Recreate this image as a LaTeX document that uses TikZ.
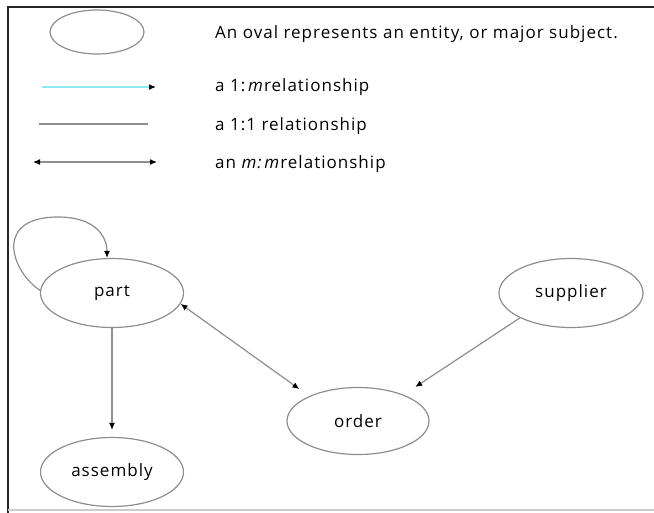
\documentclass[tikz,border=0pt]{standalone}
\usepackage{fontspec}
\setmainfont{Open Sans}[LetterSpace=6]
\usetikzlibrary{arrows.meta,shapes.geometric}
\definecolor{edgegray}{HTML}{8E8E8E}
\definecolor{onemany}{HTML}{8EEAF2}
\begin{document}
\begin{tikzpicture}[x=1pt,y=-1pt,
  entity/.style={draw=edgegray,line width=1.2pt,ellipse,minimum width=143pt,minimum height=69pt,inner sep=0pt,font=\fontsize{17}{20}\selectfont},
  legtext/.style={anchor=base west,inner sep=0pt,font=\fontsize{17}{20}\selectfont},
  link/.style={draw=edgegray,line width=1.2pt},
  onetomany/.style={link,-{Latex[black,length=7pt,width=6pt]}},
  manytomany/.style={link,{Latex[black,length=7pt,width=6pt]}-{Latex[black,length=7pt,width=6pt]}}]
  \useasboundingbox (0,0) rectangle (654,512);
  \fill[white] (0,0) rectangle (654,512);
  % frame
  \draw[black!85,line width=2.5pt] (656,7) -- (8,7) -- (8,514);
  \draw[black!20,line width=1.5pt] (8,510) -- (656,510);

  % legend
  \node[entity,minimum width=94pt,minimum height=44pt] (legoval) at (97,32) {};
  \node[legtext] (legovaltext) at (215,38) {An oval represents an entity, or major subject.};
  \coordinate (a1) at (42,87);  \coordinate (b1) at (156,87);
  \coordinate (a2) at (39,124); \coordinate (b2) at (148,124);
  \coordinate (a3) at (33,162); \coordinate (b3) at (157,162);
  \draw[onetomany,draw=onemany] (a1) -- (b1);
  \draw[link] (a2) -- (b2);
  \draw[manytomany] (a3) -- (b3);
  \node[legtext] (t1) at (215,91) {a 1:\,\textit{m}relationship};
  \node[legtext] (t2) at (215,130) {a 1:1 relationship};
  \node[legtext] (t3) at (215,168) {an \textit{m:\,m}relationship};

  % entities
  \node[entity] (part) at (112,293) {part};
  \node[entity] (assembly) at (112,472) {assembly};
  \node[entity,minimum width=142pt,minimum height=67pt] (order) at (358,421) {order};
  \node[entity,minimum width=144pt] (supplier) at (571,293) {supplier};

  % relationships
  \draw[onetomany]
    (part.178) .. controls (10,270) and (-6,217) .. (58,217)
    .. controls (95,217) and (107,236) .. ([xshift=-5pt]part.north);
  \draw[onetomany,shorten >=7pt] (part.south) -- (assembly.north);
  \draw[manytomany,shorten >=12pt] (part.-9) -- (order.153);
  \draw[onetomany,shorten >=14pt] (supplier.-154) -- (order.30);
\end{tikzpicture}
\end{document}
